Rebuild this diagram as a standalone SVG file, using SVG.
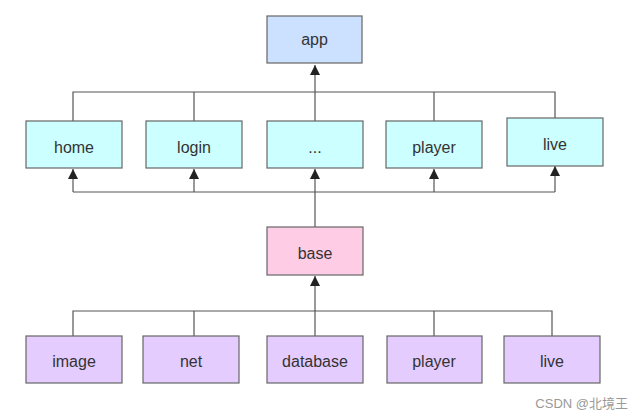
<svg xmlns="http://www.w3.org/2000/svg" width="643" height="418" viewBox="0 0 643 418">
<defs>
<style>
.n rect{stroke:#666;stroke-width:1.2}
.n text{font-family:"Liberation Sans",Arial,sans-serif;font-size:16px;fill:#333;text-anchor:middle}
.blue rect{fill:#cce0ff}
.cyan rect{fill:#ccffff}
.pink rect{fill:#ffcce6}
.purple rect{fill:#e5ccff}
#connectors path{fill:none;stroke:#555;stroke-width:1.2}
</style>
<marker id="ah" viewBox="0 0 10 12" refX="10" refY="6" markerWidth="10" markerHeight="12" markerUnits="userSpaceOnUse" orient="auto">
<path d="M0,1 L10,6 L0,11 Z" fill="#222"/>
</marker>
</defs>
<rect width="643" height="418" fill="#fff"/>
<g id="connectors">
<path d="M73,121 V92 H555 V118"/>
<path d="M194,121 V92"/>
<path d="M434,121 V92"/>
<path d="M315,121 V65" marker-end="url(#ah)"/>
<path d="M315,227 V169" marker-end="url(#ah)"/>
<path d="M73,192 H555"/>
<path d="M73,192 V169" marker-end="url(#ah)"/>
<path d="M194,192 V169" marker-end="url(#ah)"/>
<path d="M434,192 V169" marker-end="url(#ah)"/>
<path d="M555,192 V166" marker-end="url(#ah)"/>
<path d="M73,336 V311 H552 V336"/>
<path d="M194,336 V311"/>
<path d="M434,336 V311"/>
<path d="M315,336 V276" marker-end="url(#ah)"/>
</g>
<g id="app" class="n blue"><rect x="267" y="16" width="95" height="47"/><text x="314.5" y="45">app</text></g>
<g id="home" class="n cyan"><rect x="26" y="121" width="96" height="47"/><text x="74" y="153">home</text></g>
<g id="login" class="n cyan"><rect x="146" y="121" width="96" height="47"/><text x="194" y="153">login</text></g>
<g id="more" class="n cyan"><rect x="267" y="121" width="96" height="47"/><text x="315" y="153">...</text></g>
<g id="player1" class="n cyan"><rect x="386" y="121" width="96" height="47"/><text x="434" y="153">player</text></g>
<g id="live1" class="n cyan"><rect x="507" y="118" width="96" height="48"/><text x="555" y="150">live</text></g>
<g id="base" class="n pink"><rect x="267" y="227" width="96" height="48"/><text x="315" y="259">base</text></g>
<g id="image" class="n purple"><rect x="26" y="336" width="96" height="47"/><text x="74" y="367">image</text></g>
<g id="net" class="n purple"><rect x="143" y="336" width="96" height="47"/><text x="191" y="367">net</text></g>
<g id="database" class="n purple"><rect x="267" y="336" width="96" height="47"/><text x="315" y="367">database</text></g>
<g id="player2" class="n purple"><rect x="387" y="336" width="95" height="47"/><text x="434" y="367">player</text></g>
<g id="live2" class="n purple"><rect x="504" y="336" width="96" height="47"/><text x="552" y="367">live</text></g>
<text x="628" y="408" text-anchor="end" font-family="'Liberation Sans','Noto Sans CJK SC',sans-serif" font-size="13" fill="#999">CSDN @北境王</text>
</svg>
